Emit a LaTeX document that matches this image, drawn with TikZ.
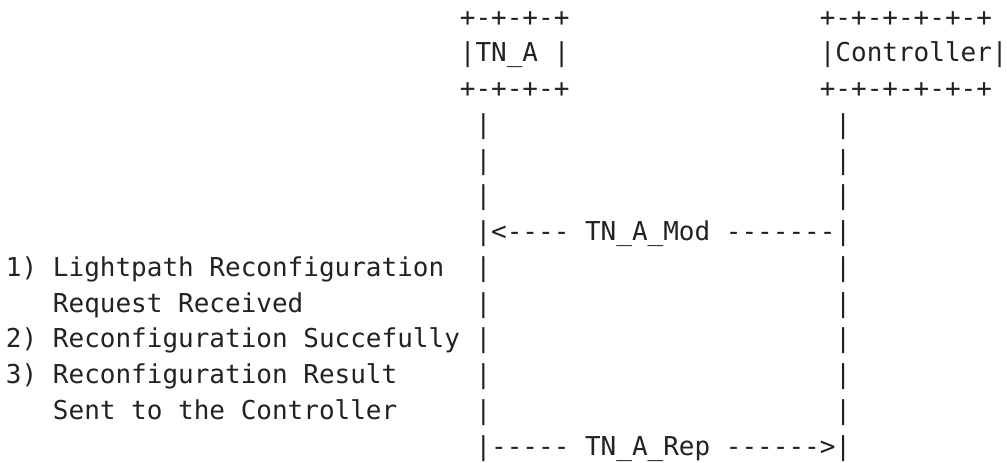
\documentclass[tikz,border=0pt]{standalone}
\usepackage{fontspec}
\setmonofont{DejaVu Sans Mono}

\definecolor{ink}{HTML}{222222}
% character cell of the text grid
\newcommand{\colw}{15.65}
\newcommand{\rowh}{35.75}

\tikzset{
  ascii/.style={anchor=base west, inner sep=0pt, outer sep=0pt, text=ink,
    font=\ttfamily\fontsize{19.5}{26}\selectfont},
  cell/.style 2 args={at={({6+#1*\colw},{26+#2*\rowh})}},
}

\begin{document}
\begin{tikzpicture}[x=0.75pt,y=-0.75pt]
\useasboundingbox (0,0) rectangle (1007,462);

% the two boxes
\node[ascii,cell={29}{0}] (tnatop) {+-+-+-+};
\node[ascii,cell={29}{1}] (tna) {|TN\_A |};
\node[ascii,cell={29}{2}] (tnabot) {+-+-+-+};
\node[ascii,cell={52}{0}] (ctrltop) {+-+-+-+-+-+};
\node[ascii,cell={52}{1}] (ctrl) {|Controller|};
\node[ascii,cell={52}{2}] (ctrlbot) {+-+-+-+-+-+};

% lifelines
\foreach \r in {3,4,5,7,8,9,10,11} {
  \node[ascii,cell={30}{\r}] (la\r) {|};
  \node[ascii,cell={53}{\r}] (lc\r) {|};
}

% messages
\node[ascii,cell={30}{6}] (mod) {|<---- TN\_A\_Mod -------|};
\node[ascii,cell={30}{12}] (rep) {|----- TN\_A\_Rep ------>|};

% steps at TN_A
\node[ascii,cell={0}{7}] (step1) {1) Lightpath Reconfiguration};
\node[ascii,cell={3}{8}] (step1b) {Request Received};
\node[ascii,cell={0}{9}] (step2) {2) Reconfiguration Succefully};
\node[ascii,cell={0}{10}] (step3) {3) Reconfiguration Result};
\node[ascii,cell={3}{11}] (step3b) {Sent to the Controller};

\end{tikzpicture}
\end{document}
